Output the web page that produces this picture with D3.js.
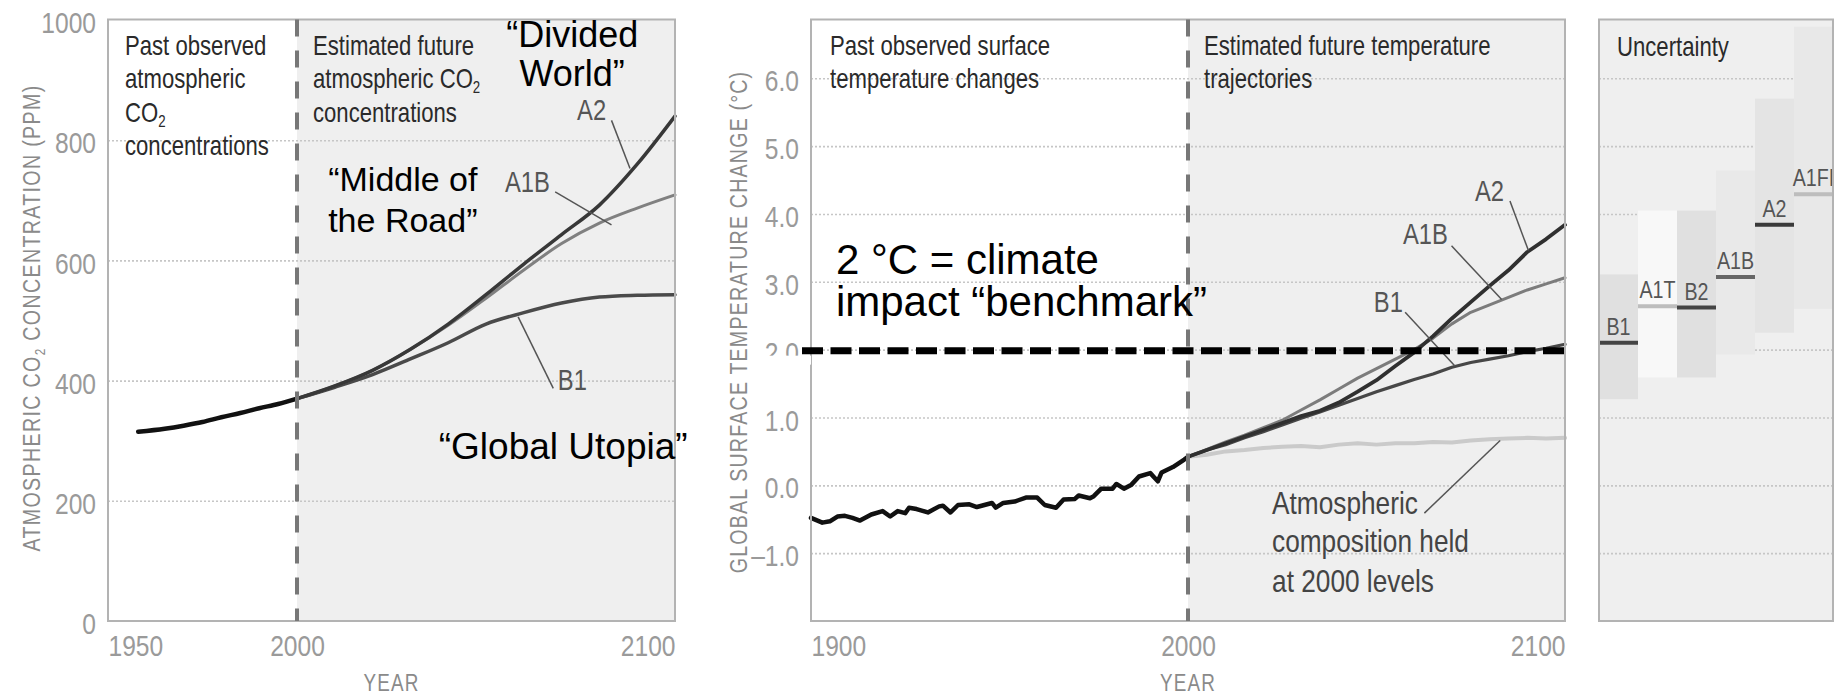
<!DOCTYPE html>
<html><head><meta charset="utf-8">
<script src="https://cdn.jsdelivr.net/npm/d3@7"></script>
<style>html,body{margin:0;padding:0;background:#fff;} svg{display:block;}</style>
</head><body><svg id="chart" width="1837" height="694"></svg>
<script>
// ---------------- DATA ----------------
const co2Ticks = [0, 200, 400, 600, 800, 1000];
const co2YearTicks = [1950, 2000, 2100];
const co2HistYears = [1958, 1965, 1970, 1975, 1980, 1985, 1990, 1995, 2000];
const co2Hist = [315, 320, 325, 331, 339, 346, 354, 361, 370];
const scenYears = [2000, 2010, 2020, 2030, 2040, 2050, 2060, 2070, 2080, 2090, 2100];
const co2A2  = [370, 391, 417, 452, 494, 543, 594, 643, 692, 760, 840];
const co2A1B = [370, 391, 417, 452, 492, 537, 584, 628, 662, 687, 709];
const co2B1  = [370, 389, 410, 436, 463, 494, 513, 529, 539, 542, 543];

const tempTicks = [-1, 0, 1, 2, 3, 4, 5, 6];
const tempYearTicks = [1900, 2000, 2100];
const tempHistYears = [1900,1903,1905,1907,1909,1911,1913,1916,1919,1921,1923,1925,1926,1928,1931,1934,1935,1937,1939,1942,1944,1946,1948,1949,1951,1954,1955,1957,1960,1962,1965,1967,1970,1971,1974,1975,1977,1980,1981,1983,1985,1987,1990,1991,1992,1993,1996,1999,2000];
const tempHist = [-0.48,-0.55,-0.53,-0.46,-0.45,-0.48,-0.52,-0.43,-0.38,-0.46,-0.38,-0.41,-0.33,-0.35,-0.40,-0.31,-0.30,-0.40,-0.29,-0.28,-0.32,-0.29,-0.26,-0.33,-0.26,-0.24,-0.22,-0.18,-0.18,-0.29,-0.33,-0.21,-0.20,-0.15,-0.19,-0.16,-0.05,-0.05,0.02,-0.05,0.01,0.13,0.18,0.12,0.06,0.19,0.27,0.38,0.42];
const futYears = [2000,2005,2010,2015,2020,2025,2030,2035,2040,2045,2050,2055,2060,2065,2070,2075,2080,2085,2090,2095,2100];
const tempA2     = [0.42,0.52,0.62,0.72,0.82,0.92,1.02,1.10,1.22,1.38,1.55,1.76,1.96,2.20,2.46,2.70,2.94,3.17,3.44,3.63,3.84];
const tempA1B    = [0.42,0.53,0.64,0.74,0.85,0.96,1.11,1.26,1.42,1.58,1.72,1.86,2.00,2.17,2.38,2.55,2.66,2.77,2.88,2.97,3.06];
const tempB1     = [0.42,0.52,0.60,0.70,0.79,0.89,0.99,1.08,1.18,1.28,1.38,1.47,1.56,1.64,1.74,1.81,1.86,1.91,1.97,2.02,2.08];
const tempCommit = [0.42,0.45,0.50,0.52,0.55,0.57,0.58,0.56,0.60,0.62,0.60,0.62,0.62,0.64,0.63,0.66,0.68,0.69,0.70,0.69,0.70];
const benchmark = 2.0;

const uncScenarios = ['B1', 'A1T', 'B2', 'A1B', 'A2', 'A1FI'];
const uncLow  = [1.27, 1.59, 1.59, 1.93, 2.25, 2.60];
const uncHigh = [3.11, 4.05, 4.05, 4.64, 5.70, 6.76];
const uncBest = [2.10, 2.64, 2.62, 3.07, 3.84, 4.29];

// ---------------- STYLE / LAYOUT ----------------
const W = 1837, H = 694, TOP = 19.5, BOTTOM = 621;
const uncFill = ['#e0e0e0', '#f8f8f8', '#e0e0e0', '#e9e9e9', '#e4e4e4', '#e8e8e8'];
const uncLine = ['#444', '#bdbdbd', '#444', '#666', '#3a3a3a', '#bdbdbd'];

function fontAvailable(name) {
  const ctx = document.createElement('canvas').getContext('2d');
  const s = 'Past observed ABC 1234567890 mmmwww';
  for (const base of ['monospace', 'serif']) {
    ctx.font = '40px ' + base; const a = ctx.measureText(s).width;
    ctx.font = '40px "' + name + '", ' + base; const b = ctx.measureText(s).width;
    if (Math.abs(a - b) > 0.5) return true;
  }
  return false;
}
let COND = '"Liberation Sans", Arial, sans-serif', SX = 0.82;
if (fontAvailable('Liberation Sans Narrow')) { COND = '"Liberation Sans Narrow", "Liberation Sans", sans-serif'; SX = 1; }
const ARIAL = '"Liberation Sans", Arial, sans-serif';

const svg = d3.select('#chart');
svg.append('rect').attr('width', W).attr('height', H).attr('fill', '#fff');

function addRich(t, str, size) {
  const parts = str.split('₂');
  let shifted = false;
  parts.forEach((p, i) => {
    if (p) {
      const ts = t.append('tspan').text(p);
      if (shifted) { ts.attr('dy', -size * 0.2); shifted = false; }
    }
    if (i < parts.length - 1) {
      t.append('tspan').attr('font-size', size * 0.6).attr('dy', size * 0.2).text('2');
      shifted = true;
    }
  });
}
function ctext(parent, x, y, str, size, fill, anchor = 'start', rot = 0) {
  const t = parent.append('text')
    .attr('transform', `translate(${x},${y})` + (rot ? ` rotate(${rot})` : '') + ` scale(${SX},1)`)
    .attr('font-family', COND).attr('font-size', size).attr('fill', fill)
    .attr('text-anchor', anchor);
  addRich(t, str, size);
  return t;
}
function atext(parent, x, y, str, size, anchor = 'start') {
  return parent.append('text').attr('x', x).attr('y', y)
    .attr('font-family', ARIAL).attr('font-size', size).attr('fill', '#000')
    .attr('text-anchor', anchor).text(str);
}
function condenseAxisText(g, size, fill) {
  g.selectAll('text').each(function () {
    const t = d3.select(this);
    const x = +t.attr('x') || 0, y = +t.attr('y') || 0;
    t.attr('x', 0).attr('y', 0)
      .attr('transform', `translate(${x},${y}) scale(${SX},1)`)
      .attr('font-family', COND).attr('font-size', size).attr('fill', fill);
  });
}
function gridlines(scale, x0, x1, ticks) {
  const g = svg.append('g').attr('transform', `translate(${x0},0)`)
    .call(d3.axisLeft(scale).tickValues(ticks).tickSize(-(x1 - x0)).tickFormat(''));
  g.select('.domain').remove();
  g.selectAll('line').attr('stroke', '#c6c6c6').attr('stroke-width', 1.6).attr('stroke-dasharray', '2,2');
  return g;
}
function yLabels(scale, xRight, ticks, fmt) {
  const g = svg.append('g').attr('transform', `translate(${xRight},0)`)
    .call(d3.axisLeft(scale).tickValues(ticks).tickSize(0).tickPadding(0).tickFormat(fmt));
  g.select('.domain').remove();
  g.selectAll('text').attr('y', 3);
  condenseAxisText(g, 30, '#9a9a9a');
}
function xLabels(scale, ticks) {
  const g = svg.append('g').attr('transform', `translate(0,${BOTTOM})`)
    .call(d3.axisBottom(scale).tickValues(ticks).tickSize(0).tickPadding(0).tickFormat(d3.format('d')));
  g.select('.domain').remove();
  g.selectAll('text').attr('y', 35).attr('dy', 0)
    .attr('text-anchor', (d, i) => i === 0 ? 'start' : (i === ticks.length - 1 ? 'end' : 'middle'));
  condenseAxisText(g, 30, '#9a9a9a');
}
function pathOf(xs, ys, X, Y, curve) {
  return d3.line().x((d, i) => X(xs[i])).y(d => Y(d)).curve(curve)(ys);
}
function drawLine(d, color, width) {
  svg.append('path').attr('d', d).attr('fill', 'none').attr('stroke', color)
    .attr('stroke-width', width).attr('stroke-linejoin', 'round').attr('stroke-linecap', 'round');
}
function leader(X, Y, a) {
  svg.append('line').attr('x1', X(a.x1)).attr('y1', Y(a.y1)).attr('x2', X(a.x2)).attr('y2', Y(a.y2))
    .attr('stroke', '#555').attr('stroke-width', 1.5);
  ctext(svg, X(a.lx), Y(a.ly), a.t, 29, '#555');
}
function frame(x0, x1) {
  svg.append('rect').attr('x', x0).attr('y', TOP).attr('width', x1 - x0).attr('height', BOTTOM - TOP)
    .attr('fill', 'none').attr('stroke', '#b3b3b3').attr('stroke-width', 2);
}
function splitLine(x) {
  svg.append('line').attr('x1', x).attr('x2', x).attr('y1', TOP).attr('y2', BOTTOM)
    .attr('stroke', '#777').attr('stroke-width', 4).attr('stroke-dasharray', '17,14');
}

// ================= LEFT PANEL: CO2 =================
const cX = d3.scaleLinear().domain([1950, 2100]).range([108, 675]);
const cY = d3.scaleLinear().domain([0, 1000]).range([621, 20]);
svg.append('rect').attr('x', cX(2000)).attr('y', TOP).attr('width', cX(2100) - cX(2000))
  .attr('height', BOTTOM - TOP).attr('fill', '#efefef');
gridlines(cY, cX(1950), cX(2100), co2Ticks.filter(v => v > 0 && v < 1000));
drawLine(pathOf(scenYears, co2B1, cX, cY, d3.curveMonotoneX), '#4a4a4a', 3.5);
drawLine(pathOf(scenYears, co2A1B, cX, cY, d3.curveMonotoneX), '#808080', 3);
drawLine(pathOf(scenYears, co2A2, cX, cY, d3.curveMonotoneX), '#383838', 3.5);
drawLine(pathOf(co2HistYears, co2Hist, cX, cY, d3.curveMonotoneX), '#111', 4.5);
const co2Ann = [
  { t: 'A2',  lx: 2074.1, ly: 834, x1: 2083.2, y1: 833, x2: 2088.1, y2: 753 },
  { t: 'A1B', lx: 2055.0, ly: 714, x1: 2068.3, y1: 714, x2: 2083.2, y2: 659 },
  { t: 'B1',  lx: 2069.0, ly: 384, x1: 2058.5, y1: 506, x2: 2067.8, y2: 387 }
];
co2Ann.forEach(a => leader(cX, cY, a));
frame(cX(1950), cX(2100));
splitLine(cX(2000));
yLabels(cY, 96, co2Ticks, d3.format('d'));
xLabels(cX, co2YearTicks);
ctext(svg, 40, 318, 'ATMOSPHERIC CO₂ CONCENTRATION (PPM)', 24, '#8a8a8a', 'middle', -90).attr('letter-spacing', 1.6);
ctext(svg, (cX(1950) + cX(2100)) / 2, 691, 'YEAR', 23, '#8a8a8a', 'middle').attr('letter-spacing', 1.5);
['Past observed', 'atmospheric', 'CO₂', 'concentrations'].forEach((s, i) => ctext(svg, 125, [55, 88, 122, 155][i], s, 27, '#2a2a2a'));
['Estimated future', 'atmospheric CO₂', 'concentrations'].forEach((s, i) => ctext(svg, 313, [55, 88, 122][i], s, 27, '#2a2a2a'));
// overlay captions
atext(svg, cX(2072.8), cY(955), '\u201CDivided', 36, 'middle');
atext(svg, cX(2072.8), cY(890), 'World\u201D', 36, 'middle');
atext(svg, cX(2028), cY(716), '\u201CMiddle of', 34, 'middle');
atext(svg, cX(2028), cY(648), 'the Road\u201D', 34, 'middle');
atext(svg, cX(2037.5), cY(270), '\u201CGlobal Utopia\u201D', 37, 'start');

// ================= MIDDLE PANEL: TEMPERATURE =================
const tX = d3.scaleLinear().domain([1900, 2100]).range([811, 1565]);
const tY = d3.scaleLinear().domain([-2, 6]).range([621, 78.3]);
svg.append('rect').attr('x', tX(2000)).attr('y', TOP).attr('width', tX(2100) - tX(2000))
  .attr('height', BOTTOM - TOP).attr('fill', '#efefef');
gridlines(tY, tX(1900), tX(2100), tempTicks);
drawLine(pathOf(futYears, tempCommit, tX, tY, d3.curveLinear), '#cacaca', 4);
drawLine(pathOf(futYears, tempB1, tX, tY, d3.curveLinear), '#474747', 3.2);
drawLine(pathOf(futYears, tempA1B, tX, tY, d3.curveLinear), '#7c7c7c', 3);
drawLine(pathOf(futYears, tempA2, tX, tY, d3.curveLinear), '#303030', 3.8);
drawLine(pathOf(tempHistYears, tempHist, tX, tY, d3.curveLinear), '#111', 4.5);
const tempAnn = [
  { t: 'A2',  lx: 2076.1, ly: 4.19, x1: 2085.4, y1: 4.19, x2: 2090.3, y2: 3.46 },
  { t: 'A1B', lx: 2057.0, ly: 3.56, x1: 2069.9, y1: 3.53, x2: 2083.2, y2: 2.74 },
  { t: 'B1',  lx: 2049.3, ly: 2.55, x1: 2057.6, y1: 2.55, x2: 2070.8, y2: 1.76 }
];
tempAnn.forEach(a => leader(tX, tY, a));
svg.append('line').attr('x1', tX(2062.7)).attr('y1', tY(-0.41)).attr('x2', tX(2082.8)).attr('y2', tY(0.66))
  .attr('stroke', '#555').attr('stroke-width', 1.5);
['Atmospheric', 'composition held', 'at 2000 levels'].forEach((s, i) =>
  ctext(svg, tX(2022.3), tY([-0.42, -0.99, -1.57][i]), s, 32, '#444'));
frame(tX(1900), tX(2100));
splitLine(tX(2000));
yLabels(tY, 799, tempTicks, v => (v < 0 ? '\u2013' : '') + d3.format('.1f')(Math.abs(v)));
xLabels(tX, tempYearTicks);
ctext(svg, 747, 322, 'GLOBAL SURFACE TEMPERATURE CHANGE (\u00B0C)', 24, '#8a8a8a', 'middle', -90).attr('letter-spacing', 1.4);
ctext(svg, (tX(1900) + tX(2100)) / 2, 691, 'YEAR', 23, '#8a8a8a', 'middle').attr('letter-spacing', 1.5);
['Past observed surface', 'temperature changes'].forEach((s, i) => ctext(svg, 830, [55, 88][i], s, 27, '#2a2a2a'));
['Estimated future temperature', 'trajectories'].forEach((s, i) => ctext(svg, 1204, [55, 88][i], s, 27, '#2a2a2a'));

// ================= RIGHT PANEL: UNCERTAINTY =================
const uX = d3.scaleBand().domain(uncScenarios).range([1599, 1833]).padding(0);
svg.append('rect').attr('x', 1599).attr('y', TOP).attr('width', 1833 - 1599).attr('height', BOTTOM - TOP).attr('fill', '#efefef');
gridlines(tY, 1599, 1833, tempTicks);
svg.selectAll('rect.unc').data(uncScenarios).enter().append('rect').attr('class', 'unc')
  .attr('x', d => uX(d)).attr('width', uX.bandwidth())
  .attr('y', (d, i) => tY(uncHigh[i])).attr('height', (d, i) => tY(uncLow[i]) - tY(uncHigh[i]))
  .attr('fill', (d, i) => uncFill[i]);
svg.selectAll('line.best').data(uncScenarios).enter().append('line').attr('class', 'best')
  .attr('x1', d => uX(d)).attr('x2', d => uX(d) + uX.bandwidth())
  .attr('y1', (d, i) => tY(uncBest[i])).attr('y2', (d, i) => tY(uncBest[i]))
  .attr('stroke', (d, i) => uncLine[i]).attr('stroke-width', 4);
uncScenarios.forEach((d, i) => ctext(svg, uX(d) + uX.bandwidth() / 2, tY(uncBest[i]) - 8, d, 24, '#555', 'middle'));
frame(1599, 1833);
ctext(svg, 1617, 56, 'Uncertainty', 27, '#2a2a2a');

// ================= 2 °C BENCHMARK =================
// white backing at the benchmark line's left end (partly masks the 2.0 tick label, as in the original)
svg.append('rect').attr('x', tX(1900) - 52).attr('y', tY(benchmark) + 6).attr('width', 52).attr('height', 9).attr('fill', '#fff');
svg.append('line').attr('x1', tX(1900) - 9).attr('x2', tX(2100) + 5)
  .attr('y1', tY(benchmark) + 1).attr('y2', tY(benchmark) + 1)
  .attr('stroke', '#000').attr('stroke-width', 7).attr('stroke-dasharray', '21,7.5');
atext(svg, tX(1906.6), tY(3.11), '2 \u00B0C = climate', 42, 'start');
atext(svg, tX(1906.6), tY(2.49), 'impact \u201Cbenchmark\u201D', 42, 'start');
</script></body></html>
